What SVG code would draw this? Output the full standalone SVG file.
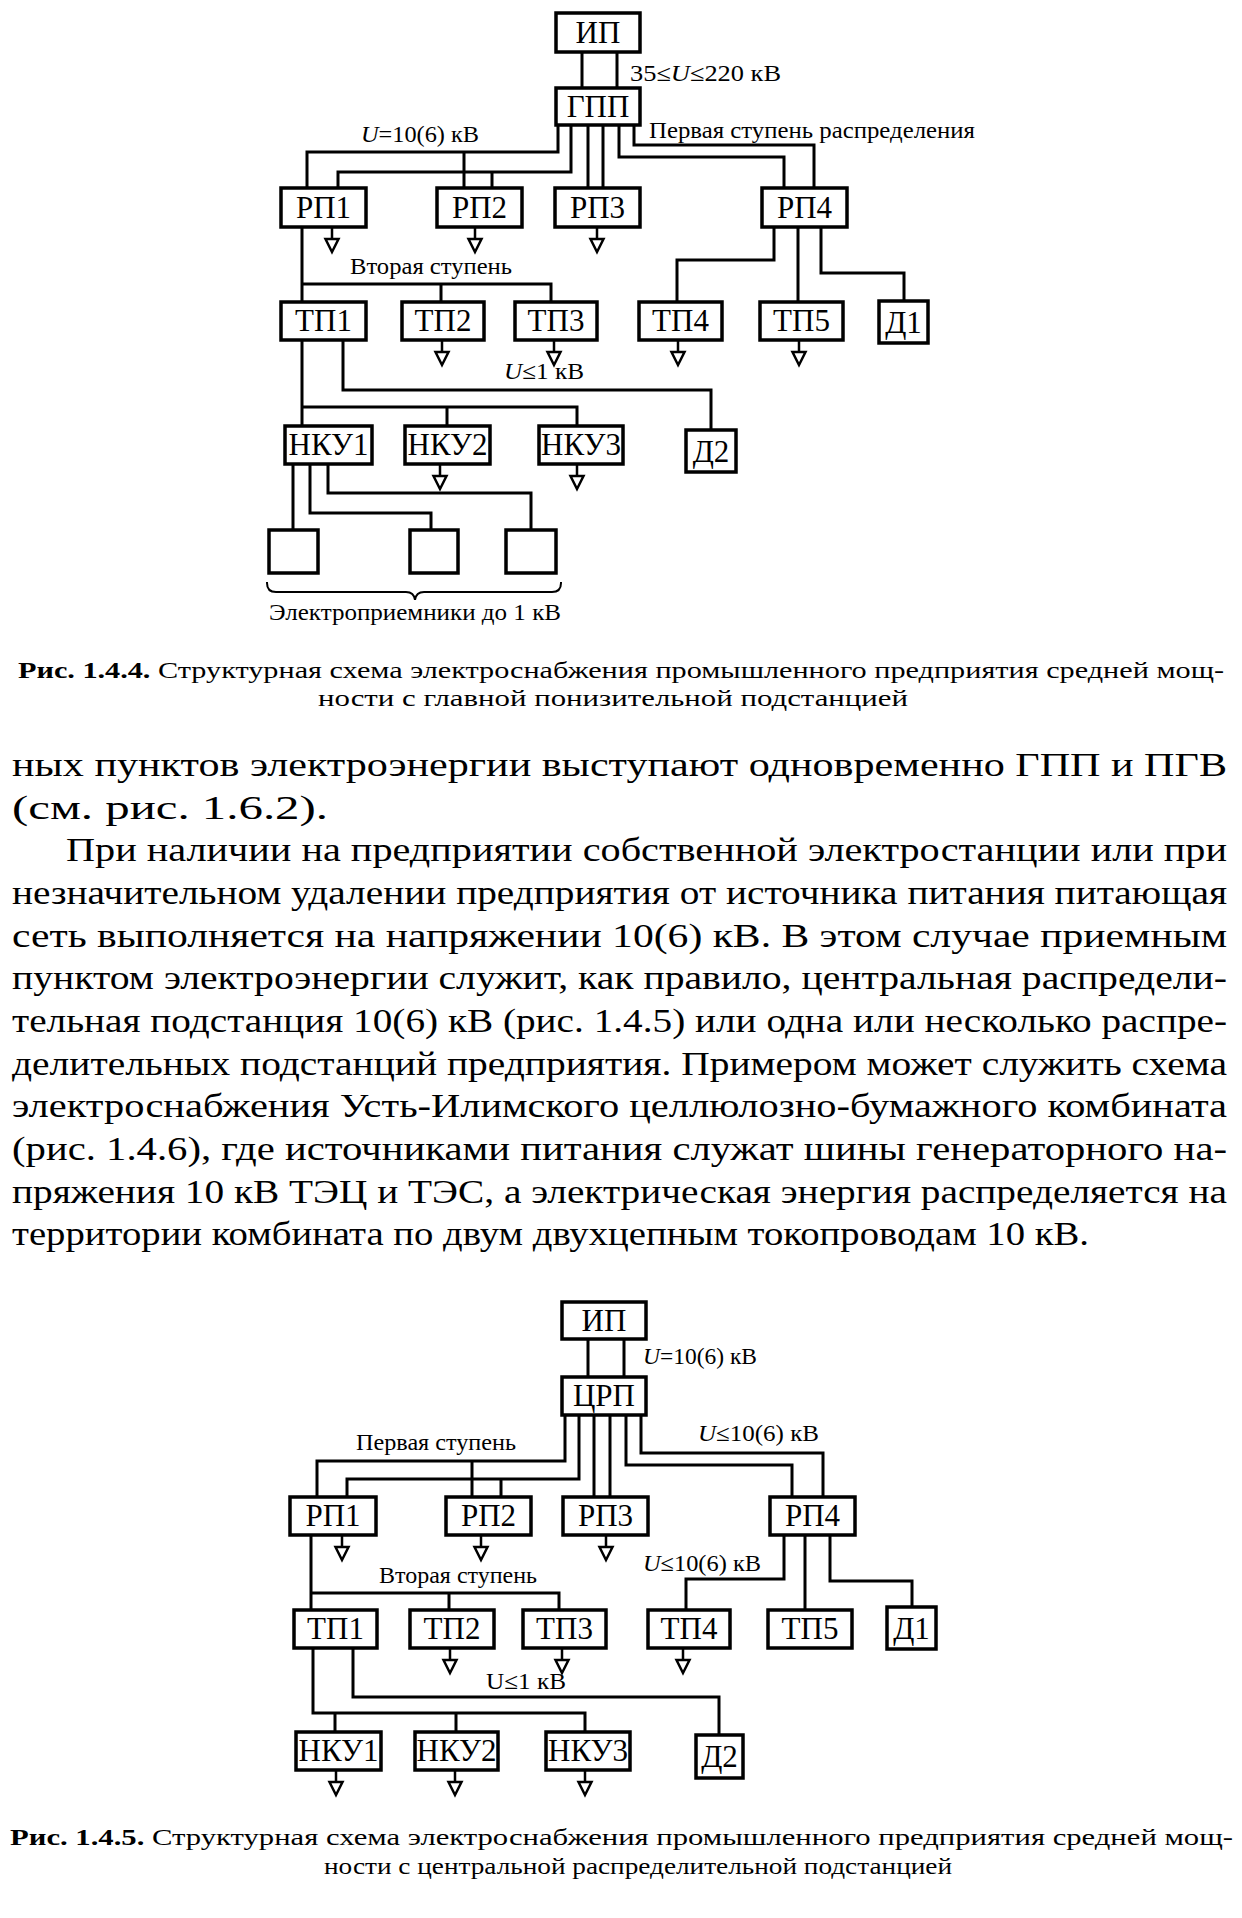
<svg xmlns="http://www.w3.org/2000/svg" xmlns:xlink="http://www.w3.org/1999/xlink" width="1242" height="1918" viewBox="0 0 1242 1918">
<style>
.box{fill:#fff;stroke:#000;stroke-width:3.5}
.ln{fill:none;stroke:#000;stroke-width:3;stroke-linejoin:miter;stroke-linecap:square}
.nt{font-family:'Liberation Serif','Times New Roman',serif;font-size:31px;text-anchor:middle;fill:#000}
.lb{font-family:'Liberation Serif','Times New Roman',serif;font-size:23px;fill:#000}
.cap{font-family:'Liberation Serif','Times New Roman',serif;font-size:24px;fill:#000}
.bd{font-family:'Liberation Serif','Times New Roman',serif;font-size:34px;fill:#000}
.b{font-weight:bold}
.i{font-style:italic}
</style>
<defs>
<g id="gnd"><path d="M0,0 V12 M-6.5,12 H6.5 L0,25 Z" fill="#fff" stroke="#000" stroke-width="2.5"/></g>
</defs>
<rect x="0" y="0" width="1242" height="1918" fill="#fff"/>

<!-- Diagram 1 connectors -->
<g id="d1-connectors" class="ln">
<path d="M582,52 V88 M617,52 V88"/>
<path d="M558,125 V152 H307 V188 M464,152 V188"/>
<path d="M571,125 V172 H338 V188 M492,172 V188"/>
<path d="M588,125 V188 M603,125 V188"/>
<path d="M619,125 V157 H784 V188"/>
<path d="M634,125 V145 H814 V188"/>
<path d="M302,227 V302 M302,284 H551 V302 M441,284 V302"/>
<path d="M774,227 V260 H677 V302 M798,227 V302 M821,227 V273 H904 V301"/>
<path d="M302,340 V426 M302,407 H577 V426 M447,407 V426"/>
<path d="M343,340 V390 H711 V430"/>
<path d="M293,464 V530 M310,464 V513 H431 V530 M328,464 V493 H531 V530"/>
<path d="M267,583 Q267,592 276,592 H406 Q414,592 415,600 Q416,592 424,592 H552 Q561,592 561,583" stroke-width="2"/>
<use xlink:href="#gnd" x="332" y="227"/>
<use xlink:href="#gnd" x="475" y="227"/>
<use xlink:href="#gnd" x="597" y="227"/>
<use xlink:href="#gnd" x="442" y="340"/>
<use xlink:href="#gnd" x="554" y="340"/>
<use xlink:href="#gnd" x="678" y="340"/>
<use xlink:href="#gnd" x="799" y="340"/>
<use xlink:href="#gnd" x="440" y="464"/>
<use xlink:href="#gnd" x="577" y="464"/>
</g>

<!-- Diagram 1 nodes -->
<g id="d1-ip"><rect class="box" x="556" y="13" width="84" height="39"/><text class="nt" x="598" y="43">ИП</text></g>
<g id="d1-gpp"><rect class="box" x="556" y="88" width="84" height="37"/><text class="nt" x="598" y="117">ГПП</text></g>
<g id="d1-rp1"><rect class="box" x="281" y="188" width="85" height="39"/><text class="nt" x="323.5" y="218">РП1</text></g>
<g id="d1-rp2"><rect class="box" x="437" y="188" width="85" height="39"/><text class="nt" x="479.5" y="218">РП2</text></g>
<g id="d1-rp3"><rect class="box" x="555" y="188" width="85" height="39"/><text class="nt" x="597.5" y="218">РП3</text></g>
<g id="d1-rp4"><rect class="box" x="762" y="188" width="85" height="39"/><text class="nt" x="804.5" y="218">РП4</text></g>
<g id="d1-tp1"><rect class="box" x="281" y="302" width="85" height="38"/><text class="nt" x="323.5" y="331">ТП1</text></g>
<g id="d1-tp2"><rect class="box" x="402" y="302" width="82" height="38"/><text class="nt" x="443" y="331">ТП2</text></g>
<g id="d1-tp3"><rect class="box" x="515" y="302" width="82" height="38"/><text class="nt" x="556" y="331">ТП3</text></g>
<g id="d1-tp4"><rect class="box" x="639" y="302" width="83" height="38"/><text class="nt" x="680.5" y="331">ТП4</text></g>
<g id="d1-tp5"><rect class="box" x="760" y="302" width="83" height="38"/><text class="nt" x="801.5" y="331">ТП5</text></g>
<g id="d1-d1"><rect class="box" x="879" y="301" width="49" height="42"/><text class="nt" x="903.5" y="333">Д1</text></g>
<g id="d1-nku1"><rect class="box" x="285" y="426" width="87" height="38"/><text class="nt" x="328.5" y="455">НКУ1</text></g>
<g id="d1-nku2"><rect class="box" x="405" y="426" width="85" height="38"/><text class="nt" x="447.5" y="455">НКУ2</text></g>
<g id="d1-nku3"><rect class="box" x="539" y="426" width="84" height="38"/><text class="nt" x="581" y="455">НКУ3</text></g>
<g id="d1-d2"><rect class="box" x="686" y="430" width="50" height="42"/><text class="nt" x="711" y="462">Д2</text></g>
<g id="d1-e1"><rect class="box" x="269" y="530" width="49" height="43"/></g>
<g id="d1-e2"><rect class="box" x="410" y="530" width="48" height="43"/></g>
<g id="d1-e3"><rect class="box" x="506" y="530" width="50" height="43"/></g>

<!-- Diagram 1 labels -->
<g id="d1-labels">
<text class="lb" x="630" y="81" textLength="151" lengthAdjust="spacingAndGlyphs">35≤<tspan class="i">U</tspan>≤220 кВ</text>
<text class="lb" x="649" y="138" textLength="326" lengthAdjust="spacingAndGlyphs">Первая ступень распределения</text>
<text class="lb" x="361" y="142" textLength="118" lengthAdjust="spacingAndGlyphs"><tspan class="i">U</tspan>=10(6) кВ</text>
<text class="lb" x="350" y="274" textLength="162" lengthAdjust="spacingAndGlyphs">Вторая ступень</text>
<text class="lb" x="504" y="379" textLength="80" lengthAdjust="spacingAndGlyphs"><tspan class="i">U</tspan>≤1 кВ</text>
<text class="lb" x="269" y="620" textLength="292" lengthAdjust="spacingAndGlyphs">Электроприемники до 1 кВ</text>
</g>

<!-- Caption 1 -->
<g id="caption1">
<text class="cap" x="18" y="678" textLength="1206" lengthAdjust="spacingAndGlyphs"><tspan class="b">Рис. 1.4.4.</tspan> Структурная схема электроснабжения промышленного предприятия средней мощ-</text>
<text class="cap" x="318" y="706" textLength="590" lengthAdjust="spacingAndGlyphs">ности с главной понизительной подстанцией</text>
</g>

<!-- Body text -->
<g id="body">
<text class="bd" x="12" y="776" textLength="1215" lengthAdjust="spacingAndGlyphs">ных пунктов электроэнергии выступают одновременно ГПП и ПГВ</text>
<text class="bd" x="12" y="819" textLength="316" lengthAdjust="spacingAndGlyphs">(см. рис. 1.6.2).</text>
<text class="bd" x="66" y="861" textLength="1161" lengthAdjust="spacingAndGlyphs">При наличии на предприятии собственной электростанции или при</text>
<text class="bd" x="12" y="904" textLength="1215" lengthAdjust="spacingAndGlyphs">незначительном удалении предприятия от источника питания питающая</text>
<text class="bd" x="12" y="947" textLength="1215" lengthAdjust="spacingAndGlyphs">сеть выполняется на напряжении 10(6) кВ. В этом случае приемным</text>
<text class="bd" x="12" y="989" textLength="1215" lengthAdjust="spacingAndGlyphs">пунктом электроэнергии служит, как правило, центральная распредели-</text>
<text class="bd" x="12" y="1032" textLength="1215" lengthAdjust="spacingAndGlyphs">тельная подстанция 10(6) кВ (рис. 1.4.5) или одна или несколько распре-</text>
<text class="bd" x="12" y="1075" textLength="1215" lengthAdjust="spacingAndGlyphs">делительных подстанций предприятия. Примером может служить схема</text>
<text class="bd" x="12" y="1117" textLength="1215" lengthAdjust="spacingAndGlyphs">электроснабжения Усть-Илимского целлюлозно-бумажного комбината</text>
<text class="bd" x="12" y="1160" textLength="1215" lengthAdjust="spacingAndGlyphs">(рис. 1.4.6), где источниками питания служат шины генераторного на-</text>
<text class="bd" x="12" y="1203" textLength="1215" lengthAdjust="spacingAndGlyphs">пряжения 10 кВ ТЭЦ и ТЭС, а электрическая энергия распределяется на</text>
<text class="bd" x="12" y="1245" textLength="1077" lengthAdjust="spacingAndGlyphs">территории комбината по двум двухцепным токопроводам 10 кВ.</text>
</g>

<!-- Diagram 2 connectors -->
<g id="d2-connectors" class="ln">
<path d="M588,1339 V1377 M624,1339 V1377"/>
<path d="M565,1415 V1461 H317 V1497 M472,1461 V1497"/>
<path d="M579,1415 V1479 H347 V1497 M501,1479 V1497"/>
<path d="M594,1415 V1497 M610,1415 V1497"/>
<path d="M626,1415 V1465 H792 V1497"/>
<path d="M641,1415 V1453 H823 V1497"/>
<path d="M311,1535 V1610 M311,1593 H559 V1610 M449,1593 V1610"/>
<path d="M784,1535 V1579 H686 V1610 M805,1535 V1610 M830,1535 V1581 H912 V1607"/>
<path d="M313,1648 V1713 H585 V1732 M335,1713 V1732 M456,1713 V1732"/>
<path d="M353,1648 V1697 H719 V1735"/>
<use xlink:href="#gnd" x="342" y="1535"/>
<use xlink:href="#gnd" x="481" y="1535"/>
<use xlink:href="#gnd" x="606" y="1535"/>
<use xlink:href="#gnd" x="450" y="1648"/>
<use xlink:href="#gnd" x="562" y="1648"/>
<use xlink:href="#gnd" x="683" y="1648"/>
<use xlink:href="#gnd" x="336" y="1770"/>
<use xlink:href="#gnd" x="455" y="1770"/>
<use xlink:href="#gnd" x="585" y="1770"/>
</g>

<!-- Diagram 2 nodes -->
<g id="d2-ip"><rect class="box" x="562" y="1302" width="84" height="37"/><text class="nt" x="604" y="1331">ИП</text></g>
<g id="d2-crp"><rect class="box" x="562" y="1377" width="84" height="38"/><text class="nt" x="604" y="1406">ЦРП</text></g>
<g id="d2-rp1"><rect class="box" x="290" y="1497" width="86" height="38"/><text class="nt" x="333" y="1526">РП1</text></g>
<g id="d2-rp2"><rect class="box" x="446" y="1497" width="85" height="38"/><text class="nt" x="488.5" y="1526">РП2</text></g>
<g id="d2-rp3"><rect class="box" x="563" y="1497" width="85" height="38"/><text class="nt" x="605.5" y="1526">РП3</text></g>
<g id="d2-rp4"><rect class="box" x="770" y="1497" width="85" height="38"/><text class="nt" x="812.5" y="1526">РП4</text></g>
<g id="d2-tp1"><rect class="box" x="294" y="1610" width="83" height="38"/><text class="nt" x="335.5" y="1639">ТП1</text></g>
<g id="d2-tp2"><rect class="box" x="410" y="1610" width="84" height="38"/><text class="nt" x="452" y="1639">ТП2</text></g>
<g id="d2-tp3"><rect class="box" x="523" y="1610" width="83" height="38"/><text class="nt" x="564.5" y="1639">ТП3</text></g>
<g id="d2-tp4"><rect class="box" x="648" y="1610" width="82" height="38"/><text class="nt" x="689" y="1639">ТП4</text></g>
<g id="d2-tp5"><rect class="box" x="768" y="1610" width="84" height="38"/><text class="nt" x="810" y="1639">ТП5</text></g>
<g id="d2-d1"><rect class="box" x="887" y="1607" width="49" height="42"/><text class="nt" x="911.5" y="1639">Д1</text></g>
<g id="d2-nku1"><rect class="box" x="296" y="1732" width="85" height="38"/><text class="nt" x="338.5" y="1761">НКУ1</text></g>
<g id="d2-nku2"><rect class="box" x="415" y="1732" width="83" height="38"/><text class="nt" x="456.5" y="1761">НКУ2</text></g>
<g id="d2-nku3"><rect class="box" x="546" y="1732" width="84" height="38"/><text class="nt" x="588" y="1761">НКУ3</text></g>
<g id="d2-d2"><rect class="box" x="696" y="1735" width="47" height="43"/><text class="nt" x="719.5" y="1767">Д2</text></g>

<!-- Diagram 2 labels -->
<g id="d2-labels">
<text class="lb" x="643" y="1364" textLength="114" lengthAdjust="spacingAndGlyphs"><tspan class="i">U</tspan>=10(6) кВ</text>
<text class="lb" x="356" y="1450" textLength="160" lengthAdjust="spacingAndGlyphs">Первая ступень</text>
<text class="lb" x="698" y="1441" textLength="121" lengthAdjust="spacingAndGlyphs"><tspan class="i">U</tspan>≤10(6) кВ</text>
<text class="lb" x="643" y="1571" textLength="118" lengthAdjust="spacingAndGlyphs"><tspan class="i">U</tspan>≤10(6) кВ</text>
<text class="lb" x="379" y="1583" textLength="158" lengthAdjust="spacingAndGlyphs">Вторая ступень</text>
<text class="lb" x="486" y="1689" textLength="80" lengthAdjust="spacingAndGlyphs">U≤1 кВ</text>
</g>

<!-- Caption 2 -->
<g id="caption2">
<text class="cap" x="10" y="1845" textLength="1223" lengthAdjust="spacingAndGlyphs"><tspan class="b">Рис. 1.4.5.</tspan> Структурная схема электроснабжения промышленного предприятия средней мощ-</text>
<text class="cap" x="324" y="1874" textLength="628" lengthAdjust="spacingAndGlyphs">ности с центральной распределительной подстанцией</text>
</g>
</svg>
